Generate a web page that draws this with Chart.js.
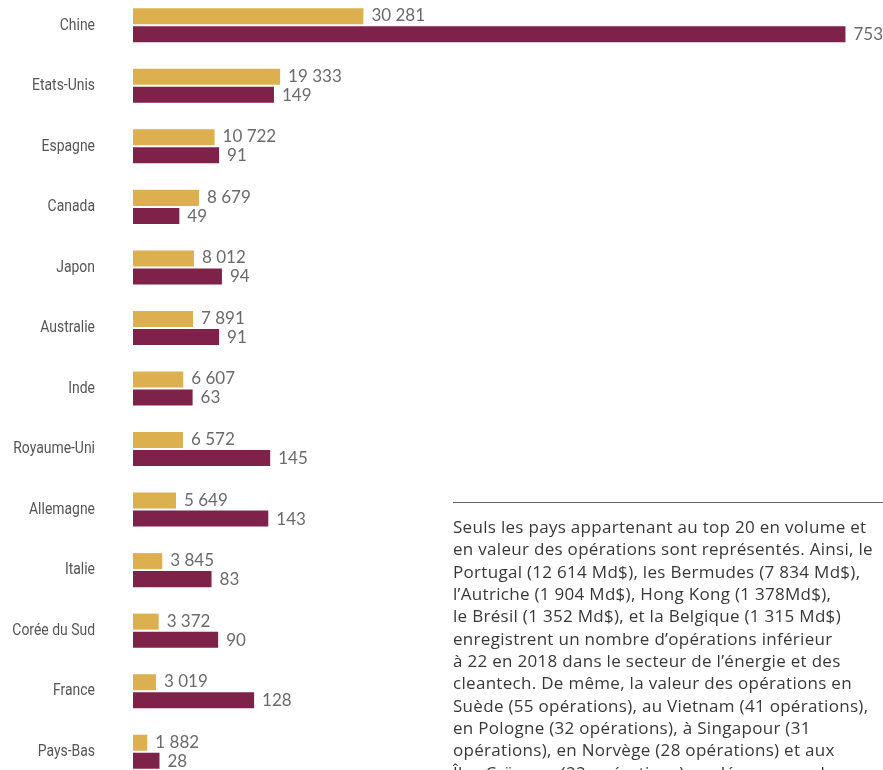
<!DOCTYPE html>
<html>
<head>
<meta charset="utf-8">
<script src="https://cdn.jsdelivr.net/npm/chart.js@4/dist/chart.umd.min.js"></script>
<style>
  html, body { margin:0; padding:0; background:#fff; width:883px; height:770px; overflow:hidden; }
  #c { position:absolute; left:0; top:-6px; }
  #note { position:absolute; left:453px; top:502px; width:430px; height:268px; overflow:hidden;
          border-top:1px solid #666; padding-top:13px; box-sizing:border-box;
          font-family:'Open Sans','Lato',sans-serif; font-size:17px; letter-spacing:0.3px; line-height:22.35px; color:#383838; }
  #note div { white-space:nowrap; }
</style>
</head>
<body>
<canvas id="c" width="883" height="788"></canvas>
<div id="note">
  <div>Seuls les pays appartenant au top 20 en volume et</div>
  <div>en valeur des opérations sont représentés. Ainsi, le</div>
  <div>Portugal (12 614 Md$), les Bermudes (7 834 Md$),</div>
  <div>l’Autriche (1 904 Md$), Hong Kong (1 378Md$),</div>
  <div>le Brésil (1 352 Md$), et la Belgique (1 315 Md$)</div>
  <div>enregistrent un nombre d’opérations inférieur</div>
  <div>à 22 en 2018 dans le secteur de l’énergie et des</div>
  <div>cleantech. De même, la valeur des opérations en</div>
  <div>Suède (55 opérations), au Vietnam (41 opérations),</div>
  <div>en Pologne (32 opérations), à Singapour (31</div>
  <div>opérations), en Norvège (28 opérations) et aux</div>
  <div>Îles Caïmans (22 opérations) ne dépasse pas le</div>
</div>
<script>
const categories = ['Chine','Etats-Unis','Espagne','Canada','Japon','Australie','Inde','Royaume-Uni','Allemagne','Italie','Corée du Sud','France','Pays-Bas'];
const valeurMd = [30281,19333,10722,8679,8012,7891,6607,6572,5649,3845,3372,3019,1882];
const nbOperations = [753,149,91,49,94,91,63,145,143,83,90,128,28];

const GOLD = '#DCB04E';
const MAROON = '#7F2249';

function fmt(v){ return String(v).replace(/\B(?=(\d{3})+(?!\d))/g, ' '); }

const labelPlugin = {
  id: 'valueLabels',
  afterDatasetsDraw(chart) {
    const ctx = chart.ctx;
    ctx.save();
    ctx.font = '400 17px Lato, "Open Sans", sans-serif';
    ctx.fillStyle = '#6a6a6a';
    ctx.textAlign = 'left';
    ctx.textBaseline = 'middle';
    chart.data.datasets.forEach((ds, di) => {
      const meta = chart.getDatasetMeta(di);
      meta.data.forEach((el, i) => {
        ctx.fillText(fmt(ds.data[i]), el.x + 8, el.y + (di === 0 ? -0.5 : 0.5));
      });
    });
    // condensed category labels
    const y = chart.scales.y;
    ctx.font = '400 17px Roboto, "DejaVu Sans", sans-serif';
    ctx.fillStyle = '#555';
    ctx.textAlign = 'right';
    const sx = 0.82;
    chart.data.labels.forEach((lab, i) => {
      const py = y.getPixelForTick(i);
      ctx.save();
      ctx.translate(95, py);
      ctx.scale(sx, 1);
      ctx.fillText(lab, 0, 0);
      ctx.restore();
    });
    ctx.restore();
  }
};

new Chart(document.getElementById('c'), {
  type: 'bar',
  data: {
    labels: categories,
    datasets: [
      { label: 'Valeur (Md$)', data: valeurMd, backgroundColor: GOLD, xAxisID: 'x' },
      { label: 'Nombre d’opérations', data: nbOperations, backgroundColor: MAROON, xAxisID: 'x2' }
    ]
  },
  options: {
    indexAxis: 'y',
    responsive: false,
    animation: false,
    categoryPercentage: 0.595,
    barPercentage: 0.889,
    layout: { padding: { left: 0, right: 12, top: 1, bottom: 0 } },
    plugins: { legend: { display: false }, tooltip: { enabled: false } },
    scales: {
      x: { display: false, min: 0, max: 97000 },
      x2: { display: false, min: 0, max: 780 },
      y: {
        grid: { display: false, drawTicks: false },
        border: { display: false },
        ticks: { display: false },
        afterFit(scale) { scale.width = 133; }
      }
    }
  },
  plugins: [labelPlugin]
});
</script>
</body>
</html>
